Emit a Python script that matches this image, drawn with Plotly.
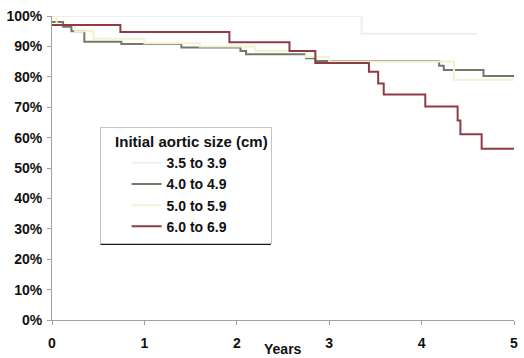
import plotly.graph_objects as go

# Survival (percent free of event) by initial aortic size, step curves over 5 years
sizes = ["3.5 to 3.9", "4.0 to 4.9", "5.0 to 5.9", "6.0 to 6.9"]

t_35 = [0, 3.35, 4.6]
s_35 = [100, 94.2, 94.2]

t_40 = [0, 0.12, 0.21, 0.35, 0.75, 1.4, 2.04, 2.1, 2.75, 2.85, 4.19, 4.24, 4.67, 5.0]
s_40 = [98, 96.5, 95, 91.5, 90.8, 89.6, 88.5, 87.4, 86.1, 85.2, 83.6, 82.2, 80.3, 80.3]

t_50 = [0, 0.05, 0.25, 0.45, 1.0, 1.6, 2.2, 2.75, 3.0, 4.35, 5.0]
s_50 = [100, 97, 95, 92.5, 91, 90, 88.5, 86.5, 85, 79, 79]

t_60 = [0, 0.74, 1.92, 2.57, 2.85, 3.43, 3.53, 3.59, 4.04, 4.39, 4.42, 4.65, 5.0]
s_60 = [97, 94.7, 91.4, 88.5, 84.5, 81.7, 77.8, 74.2, 70.2, 65.6, 61.1, 56.3, 56.3]

x_ticks = [0, 1, 2, 3, 4, 5]
y_ticks = [0, 10, 20, 30, 40, 50, 60, 70, 80, 90, 100]

series = [
    (sizes[0], t_35, s_35, "#eeeef2"),
    (sizes[1], t_40, s_40, "#737868"),
    (sizes[2], t_50, s_50, "#f3f2d0"),
    (sizes[3], t_60, s_60, "#8e3b46"),
]

font_family = "Liberation Sans, Arial, sans-serif"
ink = "#111111"

fig = go.Figure()
for name, t, s, color in series:
    fig.add_trace(go.Scatter(
        x=t, y=s, name=name, mode="lines",
        line=dict(shape="hv", color=color, width=2),
    ))

nb = "\u00a0"
fig.update_layout(
    width=524, height=358,
    margin=dict(l=52, r=6, t=16, b=38),
    paper_bgcolor="white", plot_bgcolor="white",
    font=dict(family=font_family, size=14, color=ink),
    showlegend=True,
    legend=dict(
        x=0.103, y=0.636, xanchor="left", yanchor="top",
        bgcolor="white", bordercolor="#c4c4c4", borderwidth=1,
        font=dict(family=font_family, size=14, color=ink, weight="bold"),
        title=dict(text=nb * 3 + "Initial aortic size (cm)",
                   font=dict(family=font_family, size=15, color=ink, weight="bold")),
        indentation=26,
        tracegroupgap=0,
    ),
    # heavy lower edge under the legend box
    shapes=[dict(type="line", xref="paper", yref="paper",
                 x0=0.105, x1=0.474, y0=0.251, y1=0.251,
                 line=dict(color="#1a1a1a", width=2.5))],
    annotations=[dict(text="Years", xref="paper", yref="paper",
                      x=0.5, y=-0.096, xanchor="center", yanchor="middle",
                      showarrow=False,
                      font=dict(family=font_family, size=14, color=ink, weight="bold"))],
)

fig.update_xaxes(
    range=[0, 5], tickvals=x_ticks, ticktext=[str(v) for v in x_ticks],
    showgrid=False, zeroline=False,
    showline=True, linecolor="#a0a0a0", linewidth=1,
    ticks="outside", ticklen=4, tickcolor="#a0a0a0",
    tickfont=dict(family=font_family, size=14, color=ink, weight="bold"),
    ticklabelstandoff=6,
)
fig.update_yaxes(
    range=[0, 100], tickvals=y_ticks, ticktext=[f"{v}%" for v in y_ticks],
    showgrid=False, zeroline=False,
    showline=True, linecolor="#a0a0a0", linewidth=1,
    ticks="outside", ticklen=4, tickcolor="#a0a0a0",
    tickfont=dict(family=font_family, size=14, color=ink, weight="bold"),
    ticklabelstandoff=2,
)

fig.write_html("out.html")
